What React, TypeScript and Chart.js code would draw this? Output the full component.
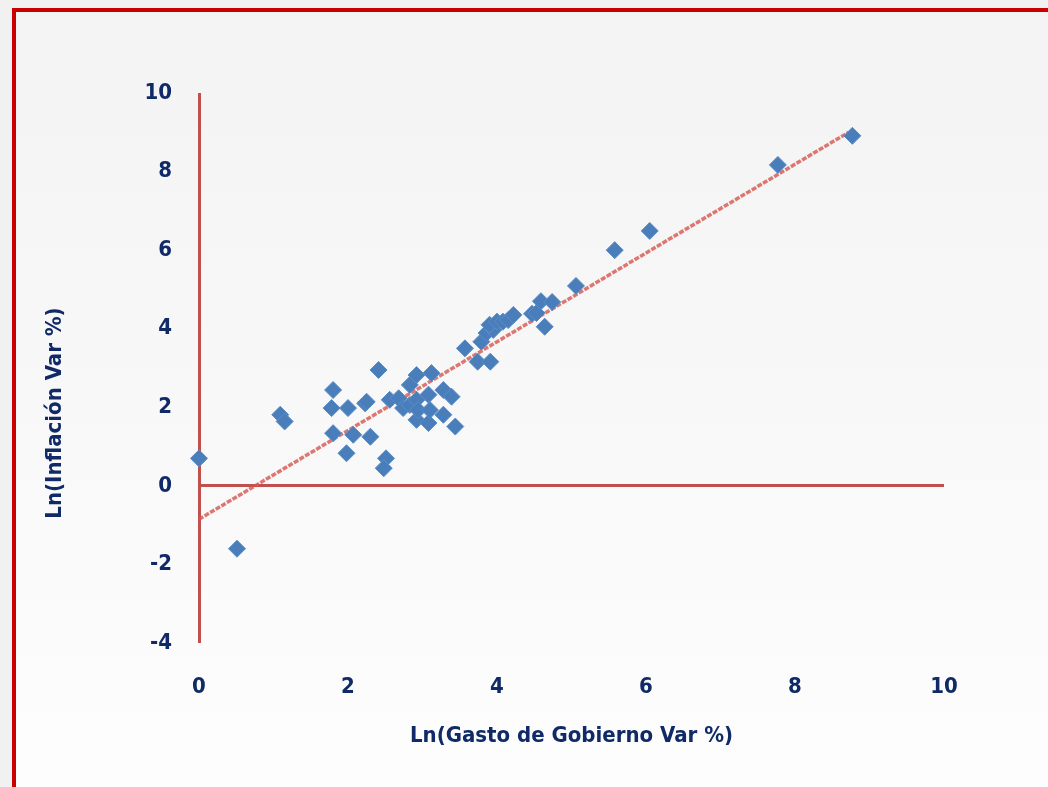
import React, { useEffect, useRef } from "react";
import { Chart, registerables } from "chart.js";

Chart.register(...registerables);

// Scatter data: Ln(Gasto de Gobierno Var %) vs Ln(Inflación Var %)
const xValues: number[] = [
  0.0, 0.51, 1.09, 1.15, 1.78, 1.8, 1.8, 1.98, 2.0, 2.07, 2.23, 2.25, 2.3, 2.41,
  2.51, 2.48, 2.56, 2.68, 2.74, 2.83, 2.83, 2.92, 3.12, 2.92, 3.08, 2.92, 3.08,
  2.94, 3.1, 3.28, 3.39, 3.28, 3.44, 3.57, 3.74, 3.79, 3.91, 3.86, 3.95, 3.9,
  4.0, 4.08, 4.15, 4.22, 4.47, 4.53, 4.59, 4.74, 4.64, 5.06, 5.58, 6.05, 7.77,
  8.77,
];
const yValues: number[] = [
  0.7, -1.6, 1.81, 1.64, 1.98, 2.44, 1.34, 0.83, 1.98, 1.3, 2.1, 2.14, 1.25, 2.95,
  0.7, 0.45, 2.19, 2.23, 1.98, 2.06, 2.57, 2.82, 2.87, 2.19, 2.32, 1.68, 1.6,
  1.93, 1.93, 2.44, 2.27, 1.81, 1.51, 3.5, 3.16, 3.67, 3.16, 3.89, 3.97, 4.1,
  4.18, 4.18, 4.22, 4.35, 4.38, 4.4, 4.7, 4.68, 4.05, 5.09, 6.0, 6.49, 8.17,
  8.91,
];

// Linear trend line endpoints
const trendX: number[] = [0, 8.72];
const trendY: number[] = [-0.85, 9.0];

// Axis ticks
const xTicks: number[] = [0, 2, 4, 6, 8, 10];
const yTicks: number[] = [-4, -2, 0, 2, 4, 6, 8, 10];

const xTitle = "Ln(Gasto de Gobierno Var %)";
const yTitle = "Ln(Inflación Var %)";

const FONT = "'DejaVu Sans Condensed', 'DejaVu Sans', sans-serif";
const TEXT = "#0f2a66";
const AXIS_RED = "#c0504d";

const bgPlugin = {
  id: "bgPlugin",
  beforeDraw(chart: any) {
    const { ctx, width, height } = chart;
    ctx.save();
    ctx.fillStyle = "#f1f1f1";
    ctx.fillRect(0, 0, width, height);
    const g = ctx.createLinearGradient(0, 12, 0, height);
    g.addColorStop(0, "#f3f3f3");
    g.addColorStop(1, "#fdfdfd");
    ctx.fillStyle = g;
    ctx.fillRect(14, 10, width - 14, height - 10);
    ctx.fillStyle = "#c80000";
    ctx.fillRect(12, 8, width - 12, 4);
    ctx.fillRect(12, 8, 4, height - 8);
    ctx.restore();
  },
  afterDraw(chart: any) {
    const { ctx } = chart;
    ctx.save();
    ctx.translate(55, 413);
    ctx.rotate(-Math.PI / 2);
    ctx.font = `bold 22px ${FONT}`;
    ctx.fillStyle = TEXT;
    ctx.textAlign = "center";
    ctx.textBaseline = "middle";
    ctx.fillText(yTitle, 0, 0);
    ctx.restore();
  },
};

export default function App() {
  const ref = useRef<HTMLCanvasElement | null>(null);

  useEffect(() => {
    if (!ref.current) return;
    const points = xValues.map((x, i) => ({ x, y: yValues[i] }));
    const trend = trendX.map((x, i) => ({ x, y: trendY[i] }));
    const chart = new Chart(ref.current, {
      type: "scatter",
      data: {
        datasets: [
          {
            type: "line",
            data: trend,
            borderColor: "rgba(214,86,80,0.8)",
            borderWidth: 3.5,
            borderDash: [5, 1.5],
            pointRadius: 0,
            fill: false,
            order: 2,
          } as any,
          {
            data: points,
            pointStyle: "rectRot",
            pointRadius: 8.5,
            pointHoverRadius: 8.5,
            backgroundColor: "#4a7ebb",
            borderColor: "#5a8cc8",
            borderWidth: 1,
            clip: false,
            order: 1,
          } as any,
        ],
      },
      options: {
        animation: false,
        responsive: false,
        maintainAspectRatio: false,
        events: [],
        layout: { padding: { top: 93, right: 104, left: 0, bottom: 0 } },
        plugins: {
          legend: { display: false },
          tooltip: { enabled: false },
        },
        scales: {
          x: {
            type: "linear",
            min: 0,
            max: 10,
            afterFit: (s: any) => {
              s.height = 144;
            },
            afterBuildTicks: (s: any) => {
              s.ticks = xTicks.map((v) => ({ value: v }));
            },
            border: { display: false },
            grid: {
              drawTicks: false,
              lineWidth: 3,
              color: (c: any) => (c.tick && c.tick.value === 0 ? AXIS_RED : "rgba(0,0,0,0)"),
            },
            ticks: {
              padding: 31,
              color: TEXT,
              font: { family: FONT, size: 22, weight: "bold" },
            },
            title: {
              display: true,
              text: xTitle,
              color: TEXT,
              font: { family: FONT, size: 22, weight: "bold", lineHeight: 1.2 },
              padding: { top: 0, bottom: 38 },
            },
          },
          y: {
            type: "linear",
            min: -4,
            max: 10,
            afterFit: (s: any) => {
              s.width = 199;
            },
            afterBuildTicks: (s: any) => {
              s.ticks = yTicks.map((v) => ({ value: v }));
            },
            border: { display: false },
            grid: {
              drawTicks: false,
              lineWidth: 3,
              color: (c: any) => (c.tick && c.tick.value === 0 ? AXIS_RED : "rgba(0,0,0,0)"),
            },
            ticks: {
              padding: 27,
              color: TEXT,
              font: { family: FONT, size: 22, weight: "bold" },
            },
          },
        },
      },
      plugins: [bgPlugin],
    });
    return () => chart.destroy();
  }, []);

  return (
    <div style={{ position: "fixed", left: 0, top: 0, width: 1048, height: 787 }}>
      <canvas ref={ref} width={1048} height={787} style={{ display: "block" }} />
    </div>
  );
}
